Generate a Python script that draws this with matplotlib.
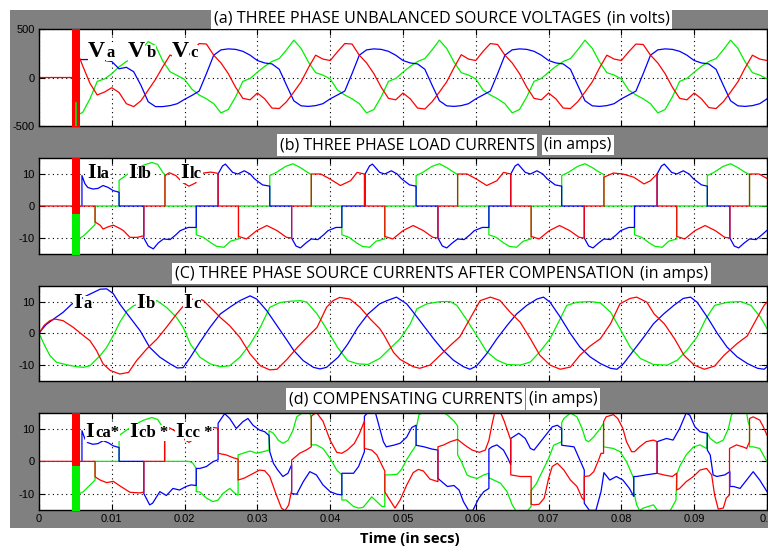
import numpy as np
import matplotlib as mpl
mpl.use("Agg")
import matplotlib.pyplot as plt
from matplotlib.patches import Rectangle

mpl.rcParams["axes.unicode_minus"] = False

# ---------------- data (time in ms) ----------------
# (a) source voltages, sampled every 1 ms from 6 ms to 100 ms
t_a = np.arange(6, 101)
va = [120, -60, -180, -150, -105, -155, -270, -300, -240, -130,
      -20, 110, 232, 195, 180, 270, 350, 345, 230, 150,
      40, -100, -215, -230, -160, -220, -315, -320, -250, -150,
      -45, 100, 230, 190, 175, 265, 350, 345, 230, 150,
      40, -100, -215, -230, -160, -220, -315, -325, -250, -150,
      -45, 100, 235, 190, 175, 270, 350, 340, 230, 150,
      40, -100, -215, -230, -160, -220, -315, -320, -250, -150,
      -45, 100, 230, 190, 175, 265, 345, 340, 230, 150,
      40, -100, -215, -230, -160, -220, -310, -320, -250, -150,
      -45, 100, 230, 190, 175]
vb = [185, 185, 185, 175, 165, 90, 105, 60, -80, -250,
      -300, -300, -290, -270, -225, -185, -140, 40, 230, 285,
      295, 290, 270, 230, 175, 150, 140, 85, -80, -240,
      -292, -298, -290, -270, -220, -180, -140, 40, 230, 285,
      295, 290, 270, 230, 175, 150, 140, 85, -80, -240,
      -292, -298, -290, -270, -220, -180, -140, 40, 230, 285,
      295, 290, 270, 230, 175, 150, 140, 85, -80, -240,
      -292, -298, -290, -270, -220, -180, -140, 40, 230, 285,
      295, 290, 270, 230, 175, 150, 140, 85, -80, -240,
      -292, -298, -290, -270, -220]
vc = [-360, -220, -40, -15, 40, 110, 165, 195, 280, 370,
      330, 170, 60, 20, -20, -120, -180, -220, -270, -365,
      -330, -200, -40, -10, 55, 115, 165, 195, 285, 385,
      300, 160, 50, 25, -15, -130, -180, -220, -270, -365,
      -330, -200, -40, -10, 55, 115, 165, 195, 285, 385,
      300, 160, 50, 25, -15, -130, -180, -220, -270, -365,
      -330, -200, -40, -10, 55, 115, 165, 195, 285, 385,
      300, 160, 50, 25, -15, -130, -180, -220, -270, -365,
      -330, -200, -40, -10, 55, 115, 165, 195, 285, 385,
      300, 160, 50, 25, -15]
va_start = [(0, 0), (4.6, 0), (5.6, 198)]
vb_start = [(5.6, 185)]
vc_start = [(5.1, -510), (5.1, -260), (5.6, -375)]

# start-up burst (envelope of the fast oscillation)
burst_t = [4.6, 5.6]
burst_a_red = ([-520, -520], [520, 520])
burst_b_red = ([-4.5, -4.5], [15.5, 15.5])
burst_b_green = ([-15.5, -15.5], [-2.5, -2.5])
burst_d_red = ([-5.5, -5.5], [15.5, 15.5])
burst_d_green = ([-15.5, -15.5], [-1.5, -1.5])

# (b) load currents
ila = [(0, 0), (4.6, 0), (5.6, 0), (7.7, 0), (7.7, -5.0), (8.4, -6.0), (8.8, -7.2), (9.5, -6.5), (10.2, -6.0),
       (11.1, -7.0), (11.6, -7.7), (12.5, -9.8), (13.5, -9.8), (14.4, -9.3), (14.4, 0), (17.3, 0),
       (17.3, 9.5), (17.9, 10.4), (18.8, 9.5), (19.8, 7.2), (20.6, 6.2), (21.5, 7.2), (22.6, 10.3),
       (23.6, 10.6), (24.6, 10.2), (24.6, 0), (27.4, 0),
       (27.4, -9.5), (28.5, -10.3), (29.9, -7.7), (31.3, -6.1), (32.7, -7.7), (34.0, -9.8), (34.7, -10.0),
       (34.7, 0), (37.4, 0),
       (37.4, 10.0), (38.7, 10.0), (40.0, 8.4), (41.4, 6.4), (42.8, 7.9), (43.7, 10.5), (44.7, 10.0),
       (44.7, 0), (47.5, 0),
       (47.5, -9.5), (48.6, -10.3), (50.0, -7.7), (51.4, -6.1), (52.8, -7.7), (54.1, -9.8), (54.8, -10.0),
       (54.8, 0), (57.5, 0),
       (57.5, 10.0), (58.8, 10.0), (60.1, 8.4), (61.5, 6.4), (62.9, 7.9), (63.8, 10.5), (64.8, 10.0),
       (64.8, 0), (67.6, 0),
       (67.6, -9.5), (68.7, -10.3), (70.1, -7.7), (71.5, -6.1), (72.9, -7.7), (74.2, -9.8), (74.9, -10.0),
       (74.9, 0), (77.6, 0),
       (77.6, 9.0), (78.9, 10.3), (80.2, 10.0), (81.7, 9.0), (83.1, 6.9), (84.0, 7.9), (84.9, 10.0),
       (84.9, 0), (87.6, 0),
       (87.6, -9.5), (88.7, -10.3), (90.1, -7.7), (91.5, -6.1), (92.9, -7.7), (94.2, -9.8), (94.9, -10.0),
       (94.9, 0), (97.6, 0),
       (97.6, 10.0), (98.9, 10.0), (100, 8.6)]
ilb = [(5.9, 0), (5.9, 9.5), (6.3, 7.0), (6.7, 5.8), (7.4, 5.3), (8.1, 5.5), (8.8, 6.4), (9.5, 5.8),
       (10.2, 4.8), (11.0, 4.3), (11.0, 0), (14.4, 0),
       (14.4, -10.0), (15.0, -12.5), (15.7, -13.4), (16.4, -11.5), (17.1, -10.3), (18.0, -10.5),
       (18.8, -9.0), (19.4, -7.7), (20.5, -6.7), (21.6, -6.7), (21.6, 0), (24.6, 0),
       (24.6, 10.0), (25.2, 12.5), (25.6, 13.1), (26.6, 10.5), (27.3, 10.0), (28.2, 11.0), (29.0, 10.0),
       (29.6, 8.5), (30.7, 6.6), (31.7, 6.2), (31.7, 0), (34.7, 0),
       (34.7, -10.0), (35.3, -12.5), (35.9, -13.1), (36.7, -11.5), (37.4, -10.3), (38.3, -10.5),
       (39.1, -9.0), (39.7, -7.7), (40.8, -6.7), (41.6, -6.7), (41.6, 0), (44.8, 0),
       (44.8, 10.0), (45.4, 12.5), (45.8, 13.1), (46.8, 10.5), (47.5, 10.0), (48.4, 11.0), (49.2, 10.0),
       (49.8, 8.5), (50.9, 6.6), (51.8, 6.2), (51.8, 0), (54.8, 0),
       (54.8, -10.0), (55.4, -12.5), (56.0, -13.1), (56.8, -11.5), (57.5, -10.3), (58.4, -10.5),
       (59.2, -9.0), (59.8, -7.7), (60.9, -6.7), (61.8, -6.7), (61.8, 0), (64.8, 0),
       (64.8, 10.0), (65.4, 12.5), (65.8, 13.1), (66.8, 10.5), (67.5, 10.0), (68.4, 11.0), (69.2, 10.0),
       (69.8, 8.5), (70.9, 6.6), (71.8, 6.2), (71.8, 0), (74.9, 0),
       (74.9, -10.0), (75.5, -12.5), (76.1, -13.1), (76.9, -11.5), (77.6, -10.3), (78.5, -10.5),
       (79.3, -9.0), (79.9, -7.7), (81.0, -6.7), (81.8, -6.7), (81.8, 0), (84.9, 0),
       (84.9, 10.0), (85.5, 12.5), (85.9, 13.1), (86.9, 10.5), (87.6, 10.0), (88.5, 11.0), (89.3, 10.0),
       (89.9, 8.5), (91.0, 6.6), (91.8, 6.2), (91.8, 0), (94.9, 0),
       (94.9, -10.0), (95.5, -12.5), (96.1, -13.1), (96.9, -11.5), (97.6, -10.3), (98.5, -10.5),
       (99.3, -9.0), (100, -7.6)]
ilc = [(5.6, -10.0), (6.1, -9.4), (7.0, -7.4), (7.7, -5.8), (7.7, 0), (11.0, 0),
       (11.0, 8.0), (11.9, 9.5), (13.2, 11.5), (14.4, 12.8), (15.5, 13.6), (16.3, 13.0), (17.0, 10.5),
       (17.3, 9.8), (17.3, 0), (21.6, 0),
       (21.6, -9.0), (22.6, -9.8), (23.6, -11.5), (24.4, -12.6), (25.4, -12.9), (26.3, -11.0),
       (27.4, -10.3), (27.4, 0), (31.7, 0),
       (31.7, 9.5), (32.6, 10.5), (33.9, 12.4), (34.9, 13.2), (35.9, 12.0), (36.7, 10.8), (37.4, 9.8),
       (37.4, 0), (41.6, 0),
       (41.6, -9.0), (42.6, -9.8), (43.6, -11.5), (44.4, -12.6), (45.4, -12.9), (46.3, -11.0),
       (47.5, -10.3), (47.5, 0), (51.8, 0),
       (51.8, 9.5), (52.7, 10.5), (54.0, 12.4), (55.0, 13.2), (56.0, 12.0), (56.8, 10.8), (57.5, 9.8),
       (57.5, 0), (61.8, 0),
       (61.8, -9.0), (62.8, -9.8), (63.8, -11.5), (64.6, -12.6), (65.6, -12.9), (66.5, -11.0),
       (67.6, -10.3), (67.6, 0), (71.8, 0),
       (71.8, 9.5), (72.7, 10.5), (74.0, 12.4), (75.0, 13.2), (76.0, 12.0), (76.8, 10.8), (77.6, 9.8),
       (77.6, 0), (81.8, 0),
       (81.8, -9.0), (82.8, -9.8), (83.8, -11.5), (84.6, -12.6), (85.6, -12.9), (86.5, -11.0),
       (87.6, -10.3), (87.6, 0), (91.8, 0),
       (91.8, 9.5), (92.7, 10.5), (94.0, 12.4), (95.0, 13.2), (96.0, 12.0), (96.8, 10.8), (97.6, 9.8),
       (97.6, 0), (100, 0)]

# (c) source currents after compensation
isa = [(0, 0), (0.5, 1.5), (1.0, 2.8), (2.0, 4.5), (3.3, 6.6), (4.5, 9.2), (5.5, 10.5), (6.5, 11.8),
       (7.5, 12.9), (8.4, 13.9), (9.3, 14.0), (10.2, 12.5), (11.1, 9.2), (12.5, 5.0), (13.9, 0.8),
       (15.2, -4.4), (16.6, -7.5), (18.0, -9.6), (19.0, -10.9), (19.8, -10.8), (20.8, -7.5), (22.1, -2.8),
       (23.5, 1.9), (24.9, 6.1), (26.2, 8.2), (27.6, 10.3), (29.0, 11.8), (29.9, 10.8), (31.3, 7.1),
       (32.7, 2.4), (34.1, -2.3), (35.0, -5.4), (36.3, -8.6), (37.7, -10.7), (38.6, -11.2), (39.5, -10.7),
       (41.1, -7.5), (42.4, -3.4), (43.8, 1.9), (45.2, 6.1), (46.8, 9.3), (47.8, 10.3), (49.1, 11.4),
       (50.5, 9.3), (51.4, 6.7), (52.8, 2.5), (54.2, -1.7), (55.5, -5.3), (56.9, -8.4), (58.3, -10.5),
       (59.2, -11.3), (60.1, -10.3), (61.5, -6.4), (62.9, -1.7), (64.3, 2.5), (65.6, 6.1), (67.0, 8.8),
       (68.4, 10.8), (69.3, 11.4), (70.2, 9.8), (71.6, 5.1), (73.0, -0.1), (74.3, -4.3), (75.7, -7.4),
       (77.1, -9.5), (78.5, -11.0), (79.4, -11.3), (80.3, -9.5), (81.7, -5.3), (83.1, -1.1), (84.4, 3.0),
       (85.8, 6.1), (87.2, 8.8), (88.5, 11.0), (89.5, 11.4), (90.4, 9.8), (91.8, 5.1), (93.2, -0.1),
       (94.5, -4.3), (95.9, -7.4), (97.3, -9.5), (98.7, -11.0), (99.6, -11.3), (100, -10.5)]
isb = [(0, 0), (0.8, -3.9), (1.5, -7.0), (2.4, -9.1), (3.8, -9.9), (5.2, -10.5), (6.1, -10.7), (7.0, -10.2),
       (8.4, -7.0), (9.3, -4.4), (10.2, -0.7), (11.1, 3.5), (12.1, 7.1), (13.0, 8.7), (14.5, 9.8),
       (16.2, 10.3), (17.5, 8.2), (18.9, 5.0), (19.8, 1.9), (20.8, -3.4), (22.1, -7.5), (23.5, -9.6),
       (24.9, -10.5), (26.2, -10.2), (27.6, -7.5), (29.0, -3.4), (30.4, 1.9), (31.7, 8.2), (33.1, 9.7),
       (34.5, 10.1), (35.9, 10.3), (36.8, 9.8), (38.2, 6.1), (39.5, 1.4), (41.0, -4.4), (42.4, -8.6),
       (43.8, -9.6), (45.2, -9.8), (46.8, -7.9), (48.2, -4.8), (49.6, -1.7), (51.0, 3.0), (51.9, 7.7),
       (53.3, 9.3), (55.1, 10.0), (56.5, 10.0), (57.4, 8.8), (58.8, 4.1), (60.1, -0.6), (61.5, -5.8),
       (62.9, -8.4), (64.3, -9.8), (66.1, -10.0), (67.5, -9.0), (68.8, -5.8), (70.2, -1.7), (71.6, 4.6),
       (72.5, 8.8), (73.9, 9.8), (75.7, 10.0), (77.1, 9.6), (78.5, 6.7), (79.8, 1.5), (81.2, -4.3),
       (82.6, -7.9), (84.4, -9.8), (86.3, -10.0), (87.7, -8.4), (89.0, -5.3), (90.4, -1.1), (91.6, 4.6),
       (92.8, 8.8), (94.6, 9.8), (96.4, 10.0), (97.8, 8.8), (99.1, 5.1), (100, 1.5)]
isc = [(0, 0), (0.7, 2.5), (1.5, 4.0), (2.2, 4.5), (3.3, 4.0), (4.7, 1.9), (6.1, -0.7), (7.0, -2.3),
       (7.9, -5.4), (8.8, -9.6), (9.8, -11.7), (11.1, -12.8), (12.3, -12.3), (13.4, -8.6), (14.8, -4.9),
       (16.2, -1.8), (17.5, 1.9), (18.9, 6.1), (19.8, 8.5), (20.8, 10.5), (21.7, 11.3), (22.6, 10.3),
       (24.0, 7.1), (24.9, 5.0), (26.2, 2.4), (27.6, -1.3), (29.0, -6.5), (30.4, -10.2), (31.7, -11.5),
       (32.7, -11.3), (34.1, -8.1), (35.5, -4.4), (36.8, -1.3), (38.2, 1.9), (39.5, 8.2), (40.4, 10.3),
       (41.3, 11.3), (42.7, 10.8), (44.1, 8.2), (45.5, 4.5), (46.8, 1.5), (47.3, -0.2), (48.7, -6.0),
       (49.6, -8.2), (51.4, -10.5), (52.3, -11.0), (53.7, -10.0), (55.1, -6.9), (56.5, -3.8), (57.8, -1.1),
       (59.2, 4.6), (60.6, 10.3), (62.0, 11.4), (63.3, 10.4), (64.7, 6.7), (66.1, 3.5), (67.5, -1.7),
       (68.8, -6.9), (70.2, -10.0), (71.6, -11.3), (73.0, -10.6), (74.3, -6.9), (75.7, -4.0), (77.1, -1.7),
       (78.5, 3.0), (79.8, 9.3), (81.2, 11.0), (82.1, 11.4), (83.5, 9.8), (84.5, 6.1), (85.9, 3.0),
       (87.3, -1.7), (88.6, -6.9), (90.0, -10.0), (91.4, -11.3), (92.8, -10.3), (94.1, -6.9), (95.9, -3.2),
       (97.3, -0.8), (98.7, 5.1), (99.6, 8.8), (100, 9.8)]

# (d) compensating currents
ica = [(0, 0), (4.6, 0), (5.6, 0), (7.7, 0), (7.7, -4.8), (8.4, -5.8), (9.3, -6.6), (10.2, -6.2),
       (11.1, -7.6), (12.5, -9.6), (13.9, -9.8), (14.4, -9.5), (14.4, 0), (17.25, 0), (17.25, 9.5),
       (17.9, 10.4), (18.8, 9.3), (19.8, 7.0), (20.6, 5.9), (21.5, 7.2), (22.6, 10.2), (23.6, 10.6),
       (24.6, 10.3), (24.6, 2.5), (25.7, 2.0), (26.7, 1.1), (27.35, 0.7), (27.35, -5.8), (28.2, -5.2),
       (29.2, -4.0), (30.3, -2.7), (31.0, -2.9), (31.7, -4.7), (32.6, -10.4), (33.3, -14.5), (33.8, -15.3),
       (34.3, -13.5), (34.7, -9.0), (34.7, 0.4), (35.8, 2.5), (36.7, 3.5), (37.4, 4.5), (37.4, 14.0),
       (38.1, 15.2), (39.0, 12.5), (40.0, 6.5), (40.9, 2.8), (41.6, 2.5), (42.4, 3.6), (43.3, 5.5),
       (44.0, 8.5), (44.7, 12.5), (44.7, 4.0), (45.7, 3.5), (46.4, 2.0), (47.1, -1.2), (47.5, -3.0),
       (47.5, -9.5), (48.2, -12.0), (48.9, -14.5), (49.6, -12.0), (50.5, -7.4), (51.4, -3.5), (52.1, -2.5),
       (52.8, -3.0), (53.7, -5.5), (54.8, -6.3), (54.8, 4.5), (55.6, 5.1), (56.5, 6.1), (57.5, 6.8),
       (58.5, 5.0), (59.5, 3.5), (60.5, 2.8), (61.3, 3.5), (61.8, 6.5), (62.2, 11.2), (62.6, 15.2),
       (63.4, 15.2), (63.9, 12.5), (64.8, 6.6), (64.8, -4.2), (66.1, -4.7), (67.6, -4.7), (67.6, -13.3),
       (68.0, -13.5), (68.7, -13.3), (69.4, -11.4), (70.0, -5.3), (70.5, -1.6), (71.2, -0.6), (72.1, -2.7),
       (73.0, -5.8), (73.9, -7.8), (74.6, -11.4), (74.9, -12.0), (74.9, -4.7), (75.6, -4.5), (76.2, -3.2),
       (76.8, 0.0), (77.2, 2.5), (77.55, 2.5), (77.55, 12.3), (77.9, 13.8), (78.9, 14.5), (79.5, 13.3),
       (80.2, 10.2), (80.7, 6.1), (81.4, 3.0), (81.8, 3.0), (82.5, 4.5), (83.4, 6.1), (84.4, 6.6),
       (84.9, 6.1), (84.9, -3.7), (86.0, -4.3), (87.0, -4.7), (87.6, -3.7), (87.6, -8.9), (88.0, -8.4),
       (88.9, -6.3), (89.9, -4.7), (90.8, -2.7), (91.7, -2.2), (92.4, -4.2), (92.8, -10.4), (93.3, -14.8),
       (94.0, -14.5), (94.4, -11.4), (94.85, -10.4), (94.85, 4.0), (95.8, 5.1), (96.7, 4.5), (97.2, 4.0),
       (97.6, 6.1), (97.6, 13.3), (98.1, 13.8), (99.0, 12.8), (99.5, 10.7), (100, 8.1)]
icb = [(5.9, 0), (5.9, 9.5), (6.3, 7.0), (6.7, 5.8), (7.4, 5.3), (8.1, 5.5), (8.8, 6.4), (9.5, 5.8),
       (10.2, 4.8), (11.0, 4.3), (11.0, 0), (14.4, 0), (14.4, -10.0), (15.2, -13.5), (15.6, -13.0),
       (16.6, -9.4), (17.5, -10.6), (18.4, -8.4), (19.3, -8.9), (20.2, -7.8), (20.9, -7.3), (21.6, -7.5),
       (21.6, -2.2), (22.1, -2.2), (23.0, -1.6), (23.9, -0.1), (24.6, 0.5), (24.6, 11.8), (25.5, 14.8),
       (26.2, 13.3), (27.1, 10.2), (28.0, 12.3), (28.7, 13.3), (29.4, 11.2), (30.3, 9.7), (31.0, 9.2),
       (31.6, 8.0), (31.7, 3.0), (32.2, -0.6), (32.8, -2.7), (33.5, -4.7), (34.2, -3.7), (34.7, -1.1),
       (34.7, -10.0), (35.4, -10.2), (36.3, -6.3), (37.2, -3.2), (38.1, -4.2), (39.0, -7.3), (40.0, -9.4),
       (40.9, -10.2), (41.6, -10.4), (41.6, -3.7), (42.2, -3.7), (43.2, -3.7), (43.9, -1.6), (44.7, 3.0),
       (44.7, 14.0), (45.2, 15.2), (46.2, 15.2), (46.8, 10.2), (47.3, 6.1), (47.7, 4.5), (48.7, 5.0),
       (49.6, 5.6), (50.5, 7.5), (51.2, 10.5), (51.8, 11.2), (51.8, 5.0), (52.9, 4.5), (54.0, 3.8),
       (54.8, 3.5), (54.8, -5.3), (56.1, -7.8), (57.0, -7.5), (57.7, -8.9), (58.3, -12.5), (59.0, -15.2),
       (59.6, -15.2), (60.4, -11.5), (61.1, -9.4), (61.8, -8.4), (61.8, 3.8), (62.2, 4.5), (62.9, 5.1),
       (63.8, 3.5), (64.4, 1.0), (64.8, -1.0), (64.8, 7.1), (65.9, 8.7), (66.8, 7.1), (67.5, 4.0),
       (68.0, 3.5), (68.9, 6.1), (69.8, 8.7), (70.5, 10.7), (71.2, 11.2), (71.8, 10.2), (71.8, 5.0),
       (73.5, 4.5), (74.4, -0.1), (74.9, -2.7), (74.9, -13.0), (75.6, -15.2), (76.5, -15.2), (77.2, -9.4),
       (77.6, -3.5), (78.4, -5.8), (79.3, -4.7), (80.2, -5.8), (81.1, -8.4), (81.7, -10.9), (81.7, -4.7),
       (82.1, -4.7), (83.4, -4.2), (84.9, -3.7), (84.9, 6.1), (86.2, 7.1), (87.1, 6.6), (88.0, 10.2),
       (88.9, 15.0), (89.4, 14.3), (90.1, 10.7), (90.8, 9.2), (91.8, 8.7), (91.8, 3.5), (92.2, 2.0),
       (92.6, -4.2), (93.1, -4.7), (94.2, -4.2), (94.9, -3.2), (94.9, -7.8), (95.4, -7.8), (96.3, -8.4),
       (97.2, -5.8), (98.1, -3.2), (99.0, -5.8), (100, -9.4)]
icc = [(5.6, -10.0), (6.1, -9.4), (7.0, -7.4), (7.7, -5.8), (7.7, 0), (11.0, 0), (11.0, 8.0), (11.9, 9.5),
       (13.2, 11.5), (14.4, 12.8), (15.5, 13.6), (16.3, 13.0), (17.0, 10.5), (17.3, 9.8), (17.3, 0),
       (20.6, 0), (21.1, -0.5), (21.6, -2.2), (21.6, -9.4), (22.1, -9.5), (23.0, -11.4), (23.9, -12.5),
       (24.6, -12.0), (25.3, -9.9), (26.2, -8.4), (26.9, -9.9), (27.35, -10.5), (27.35, 2.0), (28.0, 2.5),
       (29.0, 3.2), (29.9, 2.5), (30.8, 3.0), (31.6, 3.5), (31.6, 9.5), (32.2, 8.7), (32.9, 6.5),
       (33.5, 5.6), (34.2, 6.5), (34.9, 9.7), (35.4, 13.8), (36.3, 15.2), (37.2, 15.2), (37.4, 13.3),
       (37.4, 5.1), (38.1, 5.1), (39.0, 4.0), (40.0, 0.9), (40.9, -2.7), (41.6, -4.2), (41.6, -12.0),
       (42.2, -12.0), (43.2, -14.0), (43.9, -14.5), (44.5, -14.3), (45.0, -13.0), (45.7, -11.0),
       (46.4, -12.5), (47.1, -14.0), (47.5, -14.0), (47.5, -4.2), (48.3, -4.2), (49.2, -4.0), (49.8, -2.5),
       (50.5, 0.5), (51.2, 3.0), (51.8, 5.0), (51.8, 10.0), (52.2, 14.5), (52.8, 15.2), (55.6, 15.2),
       (56.3, 14.0), (57.0, 12.5), (57.5, 11.0), (57.5, 2.0), (58.0, 0.0), (58.8, -4.2), (59.3, -4.8),
       (60.2, -5.3), (61.1, -4.2), (61.8, -3.7), (61.8, -5.3), (62.0, -5.3), (63.4, -6.8), (64.3, -9.4),
       (65.0, -13.5), (65.5, -15.3), (67.1, -15.3), (67.6, -14.0), (67.6, -9.0), (68.3, -7.0), (68.9, -4.2),
       (70.0, 0.9), (70.7, 5.0), (71.8, 6.1), (71.8, 12.0), (72.1, 13.3), (73.0, 15.0), (73.9, 13.8),
       (74.6, 10.2), (75.1, 6.6), (75.5, 6.1), (76.2, 7.6), (77.1, 10.2), (77.55, 11.8), (77.55, 4.5),
       (78.9, 4.0), (79.8, 3.0), (80.7, -0.1), (81.7, -5.3), (81.7, -9.4), (82.1, -13.5), (82.5, -15.3),
       (83.0, -14.5), (84.4, -13.5), (85.0, -15.3), (86.7, -15.3), (87.5, -12.0), (87.6, -4.0), (88.0, -1.6),
       (88.9, 2.0), (89.9, 4.5), (90.8, 5.1), (91.7, 4.0), (91.8, 8.7), (92.2, 7.1), (93.1, 5.6), (94.0, 6.6),
       (94.7, 10.2), (95.1, 14.3), (95.4, 15.2), (97.2, 15.2), (97.4, 12.3), (97.6, 11.0), (97.6, 4.5),
       (98.1, 4.5), (99.0, 4.0), (100, -0.1)]

titles = ["(a) THREE PHASE UNBALANCED SOURCE VOLTAGES", "(b) THREE PHASE LOAD CURRENTS",
          "(C) THREE PHASE SOURCE CURRENTS AFTER COMPENSATION", "(d) COMPENSATING CURRENTS"]
units = ["(in volts)", "(in amps)", "(in amps)", "(in amps)"]
xticks = [0, 0.01, 0.02, 0.03, 0.04, 0.05, 0.06, 0.07, 0.08, 0.09, 0.1]
xticklabels = ["0", "0.01", "0.02", "0.03", "0.04", "0.05", "0.06", "0.07", "0.08", "0.09", "0.1"]
curve_labels = [("V", "a"), ("V", "b"), ("V", "c"),
                ("I", "la"), ("I", "lb"), ("I", "lc"),
                ("I", "a"), ("I", "b"), ("I", "c"),
                ("I", "ca*"), ("I", "cb *"), ("I", "cc *")]

# ---------------- figure ----------------
W, H = 768, 549
RED, GRN, BLU = "#ff0000", "#00f000", "#0000ff"
fig = plt.figure(figsize=(W / 100, H / 100), dpi=100, facecolor="white")
fig.patches.append(Rectangle((10 / W, 1 - 528 / H), 758 / W, 518 / H, transform=fig.transFigure,
                             facecolor="#808080", edgecolor="none", zorder=-10))


def make_axes(y0, y1, ylim, yticks):
    ax = fig.add_axes([39 / W, 1 - y1 / H, 728 / W, (y1 - y0) / H])
    ax.set_xlim(0, 0.1)
    ax.set_ylim(*ylim)
    ax.set_xticks(xticks)
    ax.set_yticks(yticks)
    ax.set_yticklabels([str(v) for v in yticks])
    ax.set_xticklabels([])
    ax.tick_params(direction="in", length=4, top=True, right=True, labelsize=8, pad=3)
    for lab in ax.get_yticklabels() + ax.get_xticklabels():
        lab.set_family("Liberation Sans")
    ax.grid(True, linestyle=(0, (1, 3)), color="black", linewidth=0.8)
    for s in ax.spines.values():
        s.set_linewidth(1.0)
    return ax


def line(ax, pairs, color):
    t, v = zip(*pairs)
    ax.plot(np.array(t) / 1000, v, color=color, lw=0.9)


def burst(ax, lohi, color):
    lo, hi = lohi
    ax.fill_between(np.array(burst_t) / 1000, lo, hi, color=color, lw=0, zorder=3)


axa = make_axes(29, 126, (-500, 500), [-500, 0, 500])
axb = make_axes(158, 254, (-15, 15), [-10, 0, 10])
axc = make_axes(285.7, 381, (-15, 15), [-10, 0, 10])
axd = make_axes(413, 509.7, (-15, 15), [-10, 0, 10])
axd.set_xticklabels(xticklabels)
for lab in axd.get_xticklabels():
    lab.set_family("Liberation Sans")

# (a)
ta = np.array(t_a)
axa.plot(np.r_[[p[0] for p in vc_start], ta] / 1000, np.r_[[p[1] for p in vc_start], vc], color=GRN, lw=0.9)
axa.plot(np.r_[[p[0] for p in vb_start], ta] / 1000, np.r_[[p[1] for p in vb_start], vb], color=BLU, lw=0.9)
axa.plot(np.r_[[p[0] for p in va_start], ta] / 1000, np.r_[[p[1] for p in va_start], va], color=RED, lw=0.9)
burst(axa, burst_a_red, RED)
axa.plot(np.array([p[0] for p in vc_start[:2]]) / 1000, [p[1] for p in vc_start[:2]], color=GRN, lw=1.2, zorder=4)

# (b)
line(axb, ilc, GRN)
line(axb, ilb, BLU)
line(axb, ila, RED)
burst(axb, burst_b_red, RED)
burst(axb, burst_b_green, GRN)

# (c)
line(axc, isb, GRN)
line(axc, isa, BLU)
line(axc, isc, RED)

# (d)
line(axd, icc, GRN)
line(axd, icb, BLU)
line(axd, ica, RED)
burst(axd, burst_d_red, RED)
burst(axd, burst_d_green, GRN)

# ---------------- titles (white boxes on gray) ----------------
renderer = fig.canvas.get_renderer()


def box_text(x0, x1, yc, s, weight="normal"):
    t = fig.text((x0 + 2) / W, 1 - yc / H, s, ha="left", va="center", fontsize=10,
                 family="Open Sans", weight=weight,
                 bbox=dict(facecolor="white", edgecolor="none", pad=1.6))
    w = t.get_window_extent(renderer).width
    t.set_fontsize(10 * (x1 - x0 - 4) / w)
    return t


title_boxes = [(212, 600, 605, 672, 18.5), (278, 539, 542, 613, 145),
               (173, 635, 638, 710, 273.5), (287, 524, 527, 600, 399)]
for (x0, x1, u0, u1, yc), ttl, un in zip(title_boxes, titles, units):
    box_text(x0, x1, yc, ttl)
    box_text(u0, u1, yc, un)
box_text(358, 462, 539, "Time (in secs)", weight="bold")

# ---------------- curve labels (big letter + smaller suffix, white background) ----------------
label_pos = [(88, 57), (128, 57), (172, 57),
             (87, 178), (128, 178), (180, 178),
             (73, 308), (136, 308), (183, 308),
             (85, 437), (129, 437), (175, 437)]
kw = dict(family="Liberation Serif", weight="bold", va="baseline", ha="left",
          bbox=dict(facecolor="white", edgecolor="none", pad=0.2))
for (xb, yb), (big, small) in zip(label_pos, curve_labels):
    tb = fig.text(xb / W, 1 - yb / H, big, fontsize=17 if big == "V" else 16, **kw)
    x_end = tb.get_window_extent(renderer).x1
    fig.text((x_end + 1.5) / W, 1 - yb / H, small, fontsize=12, **kw)

fig.savefig("out.png", dpi=100, facecolor="white")
